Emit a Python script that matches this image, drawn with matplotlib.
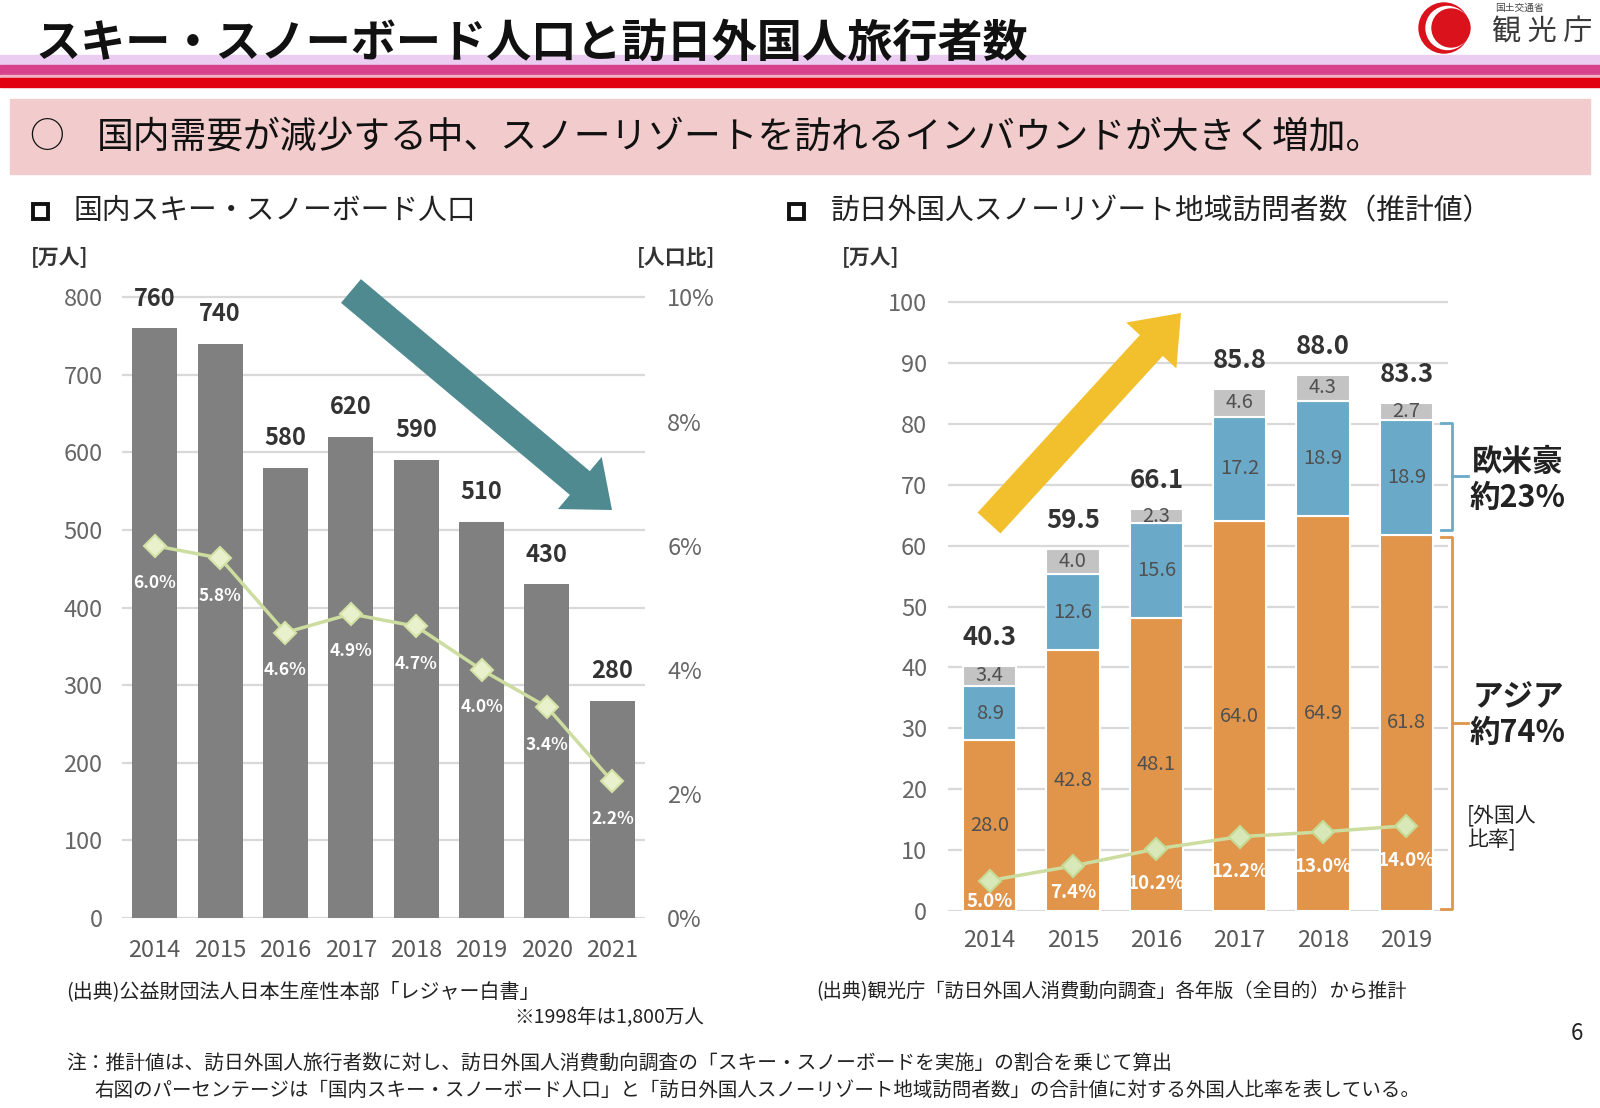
import matplotlib
matplotlib.use('Agg')
import matplotlib.pyplot as plt
from matplotlib.patches import Rectangle, FancyArrow, Circle
import numpy as np

plt.rcParams['font.family'] = ['Noto Sans CJK JP', 'DejaVu Sans']

# ---------------- data ----------------
left_years = ['2014', '2015', '2016', '2017', '2018', '2019', '2020', '2021']
left_population = [760, 740, 580, 620, 590, 510, 430, 280]          # 万人
left_ratio = [6.0, 5.8, 4.6, 4.9, 4.7, 4.0, 3.4, 2.2]               # %
left_yticks = [0, 100, 200, 300, 400, 500, 600, 700, 800]
left_ratio_ticks = [0, 2, 4, 6, 8, 10]

right_years = ['2014', '2015', '2016', '2017', '2018', '2019']
asia = [28.0, 42.8, 48.1, 64.0, 64.9, 61.8]
western = [8.9, 12.6, 15.6, 17.2, 18.9, 18.9]
other = [3.4, 4.0, 2.3, 4.6, 4.3, 2.7]
totals = [40.3, 59.5, 66.1, 85.8, 88.0, 83.3]
foreign_ratio = [5.0, 7.4, 10.2, 12.2, 13.0, 14.0]
right_yticks = [0, 10, 20, 30, 40, 50, 60, 70, 80, 90, 100]

# ---------------- figure ----------------
W, H = 1600, 1108
fig = plt.figure(figsize=(W / 100, H / 100), dpi=100)

GRID = '#d9d9d9'
TICK = '#666666'

# ---- left chart ----
axL = fig.add_axes([122 / W, 1 - 918 / H, (645 - 122) / W, (918 - 295) / H])
xl = np.arange(len(left_years))
axL.bar(xl, left_population, width=0.69, color='#808080', zorder=3)
axL.set_xlim(-0.5, len(left_years) - 0.5)
axL.set_ylim(0, 803)
axL.set_yticks(left_yticks)
axL.set_xticks(xl, left_years)
axL.grid(axis='y', color=GRID, lw=1.6, zorder=0)
for s in axL.spines.values():
    s.set_visible(False)
axL.tick_params(axis='y', length=0, pad=14, labelsize=17, labelcolor=TICK)
axL.tick_params(axis='x', length=0, pad=15, labelsize=17, labelcolor='#595959')
for i, v in enumerate(left_population):
    axL.annotate(f'{v}', (i, v), xytext=(0, 21.5), textcoords='offset points',
                 ha='center', va='center', fontsize=17, fontweight='bold', color='#333333')

axL2 = axL.twinx()
axL2.set_ylim(0, 10.04)
axL2.set_yticks(left_ratio_ticks)
axL2.set_yticklabels([f'{t}%' for t in left_ratio_ticks])
for s in axL2.spines.values():
    s.set_visible(False)
axL2.tick_params(axis='y', length=0, pad=16, labelsize=17, labelcolor=TICK)
axL2.plot(xl, left_ratio, color='#cddc9f', lw=2.5, marker='D', ms=11,
          mfc='#e9f1cc', mec='#d3e2a5', mew=1.5, zorder=5)
for i, v in enumerate(left_ratio):
    axL2.annotate(f'{v:.1f}%', (i, v), xytext=(0, -27), textcoords='offset points',
                  ha='center', va='center', fontsize=12.5, fontweight='bold', color='white')

# ---- right chart ----
axR = fig.add_axes([948 / W, 1 - 911 / H, 500 / W, (911 - 299) / H])
xr = np.arange(len(right_years))
asia_a = np.array(asia)
west_a = np.array(western)
other_a = np.array(other)
bw = 0.64
axR.bar(xr, asia_a, bw, color='#e0954a', edgecolor='white', lw=1.5, zorder=3)
axR.bar(xr, west_a, bw, bottom=asia_a, color='#6aaac8', edgecolor='white', lw=1.5, zorder=3)
axR.bar(xr, other_a, bw, bottom=asia_a + west_a, color='#c3c3c3', edgecolor='white', lw=1.5, zorder=3)
axR.set_xlim(-0.5, len(right_years) - 0.5)
axR.set_ylim(0, 100.5)
axR.set_yticks(right_yticks)
axR.set_xticks(xr, right_years)
axR.grid(axis='y', color=GRID, lw=1.6, zorder=0)
for s in axR.spines.values():
    s.set_visible(False)
axR.tick_params(axis='y', length=0, pad=15, labelsize=17, labelcolor=TICK)
axR.tick_params(axis='x', length=0, pad=13, labelsize=17, labelcolor='#595959')

for i in range(len(right_years)):
    for bottom, val in ((0, asia_a[i]), (asia_a[i], west_a[i]), (asia_a[i] + west_a[i], other_a[i])):
        axR.text(i, bottom + val / 2, f'{val:.1f}', ha='center', va='center',
                 fontsize=14.5, color='#505050', zorder=6)
    axR.annotate(f'{totals[i]:.1f}', (i, asia_a[i] + west_a[i] + other_a[i]), xytext=(0, 20.5),
                 textcoords='offset points', ha='center', va='center',
                 fontsize=18.5, fontweight='bold', color='#333333')

axR.plot(xr, foreign_ratio, color='#cddc9f', lw=2.5, marker='D', ms=11,
         mfc='#d9e8b8', mec='#c5da95', mew=1.5, zorder=5)
pct_offsets = [-15, -19, -25, -25, -25, -25]   # label offsets in points
for i, v in enumerate(foreign_ratio):
    axR.annotate(f'{v:.1f}%', (i, v), xytext=(0, pct_offsets[i]), textcoords='offset points',
                 ha='center', va='center', fontsize=13.5, fontweight='bold', color='white', zorder=7)

# braces to the right of the last bar
def brace(ax, y0, y1, color, x0=5.55, hook=5.41, tip=5.74):
    ax.plot([hook, x0, x0, hook], [y1, y1, y0, y0], color=color, lw=2, clip_on=False,
            solid_joinstyle='round')
    ym = (y0 + y1) / 2
    ax.plot([x0, tip], [ym, ym], color=color, lw=2, clip_on=False)

brace(axR, asia_a[-1] + 0.8, asia_a[-1] + west_a[-1] - 0.5, '#6aaac8')
brace(axR, 0.3, asia_a[-1] - 0.4, '#e0954a')

# ---------------- overlay (pixel coordinates) ----------------
ov = fig.add_axes([0, 0, 1, 1], zorder=20)
ov.set_xlim(0, W)
ov.set_ylim(H, 0)
ov.axis('off')
ov.patch.set_alpha(0)

# header stripes
ov.add_patch(Rectangle((0, 55), W, 10, color='#ebcdf2', zorder=1))
ov.add_patch(Rectangle((0, 65), W, 10, color='#d8418b', zorder=1))
ov.add_patch(Rectangle((0, 75), W, 2.5, color='#f3b3c6', zorder=1))
ov.add_patch(Rectangle((0, 77.5), W, 9, color='#e0000f', zorder=1))

ov.text(36, 44, 'スキー・スノーボード人口と訪日外国人旅行者数', fontsize=32.5,
        fontweight='bold', color='#111111', ha='left', va='center', zorder=5)

# logo
ov.add_patch(Circle((1444, 28), 25, color='#d9121b', zorder=3))
ov.add_patch(Circle((1447.5, 28), 21.5, color='white', zorder=4))
ov.add_patch(Circle((1451, 28), 19, color='#d9121b', zorder=5))
ov.text(1495, 8, '国土交通省', fontsize=7, color='#444444', ha='left', va='center')
ov.text(1492, 33, '観 光 庁', fontsize=21, color='#3a3a3a', ha='left', va='center')

# pink message box
ov.add_patch(Rectangle((10, 99), 1580, 75, color='#f2cccc', zorder=1))
ov.text(29, 138, '○', fontsize=25, color='#111111', ha='left', va='center', zorder=5)
ov.text(97, 138, '国内需要が減少する中、スノーリゾートを訪れるインバウンドが大きく増加。',
        fontsize=26.5, color='#111111', ha='left', va='center', zorder=5)

# subtitles
for x0 in (33, 789):
    ov.add_patch(Rectangle((x0, 204), 15, 15, fill=False, edgecolor='#111111', lw=2.8, zorder=5))
ov.text(74, 211, '国内スキー・スノーボード人口', fontsize=20.7, color='#222222',
        ha='left', va='center')
ov.text(831, 211, '訪日外国人スノーリゾート地域訪問者数（推計値）', fontsize=20.7,
        color='#222222', ha='left', va='center')

ov.text(31, 258, '[万人]', fontsize=15, fontweight='bold', color='#333333', ha='left', va='center')
ov.text(637, 258, '[人口比]', fontsize=15, fontweight='bold', color='#333333', ha='left', va='center')
ov.text(842, 258, '[万人]', fontsize=15, fontweight='bold', color='#333333', ha='left', va='center')

# trend arrows
ov.add_patch(FancyArrow(351, 291, 612 - 351, 510 - 291, width=31, head_width=68,
                        head_length=42, length_includes_head=True,
                        color='#4e8a8f', lw=0, zorder=6))
ov.add_patch(FancyArrow(989, 523, 1181 - 989, 313 - 523, width=31, head_width=68,
                        head_length=44, length_includes_head=True,
                        color='#f1c02c', lw=0, zorder=6))

# brace labels
ov.text(1518, 480, '欧米豪\n約23%', fontsize=22, fontweight='bold', color='#222222',
        ha='center', va='center', linespacing=1.15)
ov.text(1518, 715, 'アジア\n約74%', fontsize=22, fontweight='bold', color='#222222',
        ha='center', va='center', linespacing=1.15)
ov.text(1467, 828, '[外国人\n比率]', fontsize=15, color='#222222',
        ha='left', va='center', linespacing=1.2)

# sources and notes
ov.text(66, 992, '(出典)公益財団法人日本生産性本部「レジャー白書」', fontsize=14.4,
        color='#222222', ha='left', va='center')
ov.text(704, 1018, '※1998年は1,800万人', fontsize=14, color='#222222', ha='right', va='center')
ov.text(816, 992, '(出典)観光庁「訪日外国人消費動向調査」各年版（全目的）から推計', fontsize=13.9,
        color='#222222', ha='left', va='center')
ov.text(1577, 1034, '6', fontsize=16, color='#222222', ha='center', va='center')
ov.text(66, 1063, '注：推計値は、訪日外国人旅行者数に対し、訪日外国人消費動向調査の「スキー・スノーボードを実施」の割合を乗じて算出',
        fontsize=14.2, color='#222222', ha='left', va='center')
ov.text(94, 1090, '右図のパーセンテージは「国内スキー・スノーボード人口」と「訪日外国人スノーリゾート地域訪問者数」の合計値に対する外国人比率を表している。',
        fontsize=14, color='#222222', ha='left', va='center')

fig.savefig('out.png', dpi=100)
